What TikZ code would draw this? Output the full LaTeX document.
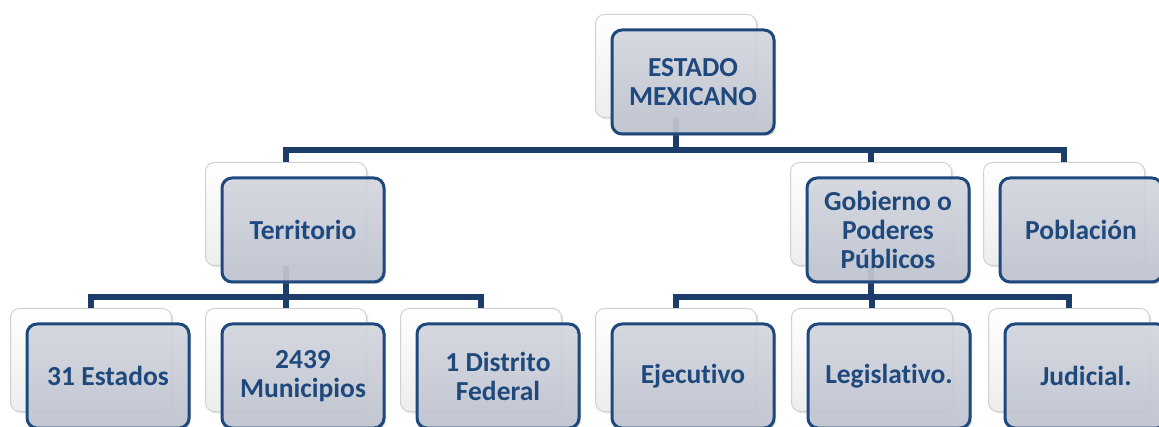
\documentclass[tikz,border=0pt]{standalone}
\usepackage{fontspec}
\setmainfont[Ligatures=NoCommon]{Carlito}
\usetikzlibrary{shadows}

\definecolor{txtblue}{HTML}{1F497D}
\definecolor{lineblue}{HTML}{1C3C6A}
\definecolor{boxtop}{HTML}{D6D9E2}
\definecolor{boxbot}{HTML}{C1C5D1}

% name/x/y/text of every box (x,y of the back card, in px)
\newcommand\boxlist{est/676/66/{ESTADO\\MEXICANO},
  ter/286/214/{Territorio},
  gob/871/214/{Gobierno o\\Poderes\\Públicos},
  pob/1064/214/{Población},
  est31/91/360/{31 Estados},
  mun/286/360/{2439\\Municipios},
  df/481/360/{1 Distrito\\Federal},
  eje/676/360/{Ejecutivo},
  leg/872/360/{Legislativo.},
  jud/1069/360/{Judicial.}}

\tikzset{
  backbox/.style={draw=black!18, line width=1pt, rounded corners=9pt,
    top color=white, bottom color=black!7,
    minimum width=161pt, minimum height=103pt,
    drop shadow={opacity=0.2, shadow xshift=2pt, shadow yshift=-2pt}},
  frontbox/.style={draw=txtblue, line width=3pt, rounded corners=10pt,
    top color=boxtop, bottom color=boxbot, fill opacity=0.9, text opacity=1,
    minimum width=162pt, minimum height=104pt, align=center,
    text=txtblue, font=\bfseries\fontsize{27.5}{29}\selectfont,
    drop shadow={opacity=0.3, shadow xshift=2pt, shadow yshift=-2pt}},
  conn/.style={draw=lineblue, line width=5.5pt, line join=miter}
}

\begin{document}
\begin{tikzpicture}[x=1pt,y=-1pt]
\useasboundingbox (0,0) rectangle (1159,427);
% back cards
\foreach \n/\x/\y/\t in \boxlist{
  \node[backbox] (\n B) at (\x,\y) {};
}
% connectors
\draw[conn] (estB.south) -- ++(0,32) -| (terB.north);
\draw[conn] (estB.south) -- ++(0,32) -| (gobB.north);
\draw[conn] (estB.south) -- ++(0,32) -| (pobB.north);
\draw[conn] (terB.south) -- ++(0,31) -| (est31B.north);
\draw[conn] (terB.south) -- ++(0,31) -| (munB.north);
\draw[conn] (terB.south) -- ++(0,31) -| (dfB.north);
\draw[conn] (gobB.south) -- ++(0,31) -| (ejeB.north);
\draw[conn] (gobB.south) -- ++(0,31) -| (legB.north);
\draw[conn] (gobB.south) -- ++(0,31) -| (judB.north);
% front cards with the text
\foreach \n/\x/\y/\t in \boxlist{
  \node[frontbox] (\n) at ([shift={(17,16)}]\n B.center) {\t};
}
\end{tikzpicture}
\end{document}
